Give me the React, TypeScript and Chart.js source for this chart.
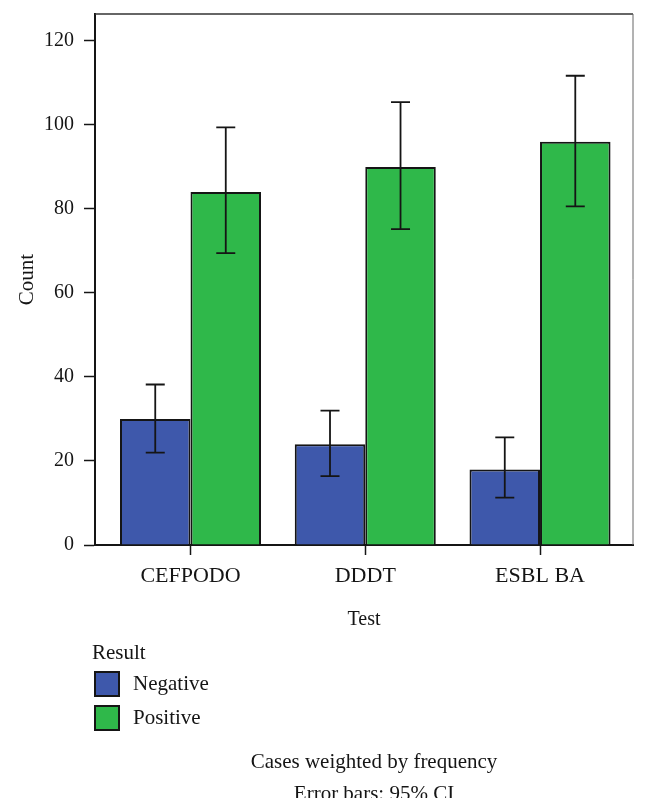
import React, { useEffect, useRef } from "react";
import { Chart, registerables } from "chart.js";

Chart.register(...registerables);

const CATEGORIES = ["CEFPODO", "DDDT", "ESBL BA"];
const SERIES_LABELS = ["Negative", "Positive"];
const NEGATIVE = [30, 24, 18];
const POSITIVE = [84, 90, 96];
const NEGATIVE_LOW = [22, 16.4, 11.3];
const NEGATIVE_HIGH = [38.2, 32, 25.6];
const POSITIVE_LOW = [69.5, 75.2, 80.6];
const POSITIVE_HIGH = [99.4, 105.4, 111.7];
const Y_TICK_STEP = 20;
const Y_MAX = 126.4;
const LEGEND_TITLE = "Result";
const X_TITLE = "Test";
const Y_TITLE = "Count";
const FOOTNOTES = ["Cases weighted by frequency", "Error bars: 95% CI"];

const COLORS = ["#3e58ab", "#2fb84a"];
const INK = "#151515";
const FONT = "'Liberation Serif', 'DejaVu Serif', serif";

const LOWS = [NEGATIVE_LOW, POSITIVE_LOW];
const HIGHS = [NEGATIVE_HIGH, POSITIVE_HIGH];

const errorBarPlugin = {
  id: "errorBars",
  afterDatasetsDraw(chart: any) {
    const { ctx } = chart;
    const yScale = chart.scales.y;
    ctx.save();
    ctx.strokeStyle = INK;
    ctx.lineWidth = 1.8;
    chart.data.datasets.forEach((_ds: any, di: number) => {
      const meta = chart.getDatasetMeta(di);
      meta.data.forEach((bar: any, i: number) => {
        const x = bar.x;
        const yl = yScale.getPixelForValue(LOWS[di][i]);
        const yh = yScale.getPixelForValue(HIGHS[di][i]);
        const cap = 9.5;
        ctx.beginPath();
        ctx.moveTo(x, yl);
        ctx.lineTo(x, yh);
        ctx.moveTo(x - cap, yl);
        ctx.lineTo(x + cap, yl);
        ctx.moveTo(x - cap, yh);
        ctx.lineTo(x + cap, yh);
        ctx.stroke();
      });
    });
    ctx.restore();
  },
};

const framePlugin = {
  id: "frame",
  afterDraw(chart: any) {
    const { ctx, chartArea } = chart;
    ctx.save();
    ctx.strokeStyle = "#333";
    ctx.lineWidth = 1.5;
    ctx.beginPath();
    ctx.moveTo(chartArea.left, chartArea.top);
    ctx.lineTo(chartArea.right, chartArea.top);
    ctx.stroke();
    ctx.strokeStyle = "#666";
    ctx.lineWidth = 1;
    ctx.beginPath();
    ctx.moveTo(chartArea.right, chartArea.top);
    ctx.lineTo(chartArea.right, chartArea.bottom);
    ctx.stroke();
    ctx.restore();
  },
};

const legendPlugin = {
  id: "customLegend",
  afterDraw(chart: any) {
    const { ctx } = chart;
    ctx.save();
    ctx.font = `21px ${FONT}`;
    ctx.fillStyle = INK;
    ctx.textBaseline = "middle";
    ctx.textAlign = "left";
    ctx.fillText(LEGEND_TITLE, 92, 653);
    chart.data.datasets.forEach((ds: any, i: number) => {
      const top = 672 + i * 34;
      ctx.fillStyle = ds.backgroundColor;
      ctx.fillRect(95, top, 24, 24);
      ctx.strokeStyle = INK;
      ctx.lineWidth = 2;
      ctx.strokeRect(95, top, 24, 24);
      ctx.fillStyle = INK;
      ctx.fillText(ds.label, 133, top + 12);
    });
    ctx.textAlign = "center";
    ctx.textBaseline = "alphabetic";
    ctx.fillText(FOOTNOTES[0], 374, 768);
    ctx.beginPath();
    ctx.rect(0, 0, 648, 798);
    ctx.clip();
    ctx.fillText(FOOTNOTES[1], 374, 800);
    ctx.restore();
  },
};

export default function App() {
  const canvasRef = useRef<HTMLCanvasElement | null>(null);

  useEffect(() => {
    if (!canvasRef.current) return;
    const chart = new Chart(canvasRef.current, {
      type: "bar",
      data: {
        datasets: [NEGATIVE, POSITIVE].map((vals, di) => ({
          label: SERIES_LABELS[di],
          data: vals.map((v, i) => ({ x: i, y: v })),
          backgroundColor: COLORS[di],
          borderColor: INK,
          borderWidth: 2,
          categoryPercentage: 0.807,
          barPercentage: 1,
        })),
      },
      options: {
        animation: false,
        responsive: false,
        devicePixelRatio: 1,
        layout: { padding: { top: 14, right: 15, left: 0, bottom: 177 } },
        plugins: {
          legend: { display: false },
          tooltip: { enabled: false },
        },
        scales: {
          x: {
            type: "linear",
            offset: false,
            min: -0.5465,
            max: 2.532,
            afterBuildTicks: (axis: any) => {
              axis.ticks = CATEGORIES.map((_c, i) => ({ value: i }));
            },
            afterFit: (axis: any) => {
              axis.height = 90;
              axis.paddingLeft = 0;
              axis.paddingRight = 0;
            },
            grid: {
              display: true,
              drawOnChartArea: false,
              drawTicks: true,
              tickLength: 10,
              tickColor: INK,
              tickWidth: 1.5,
              offset: false,
            },
            border: { display: true, color: INK, width: 2 },
            ticks: {
              autoSkip: false,
              maxRotation: 0,
              padding: 8,
              color: INK,
              font: { family: FONT, size: 22 },
              callback: (value: any) => CATEGORIES[value] ?? "",
            },
            title: {
              display: true,
              text: X_TITLE,
              color: INK,
              font: { family: FONT, size: 20 },
              padding: { top: 0, bottom: 3 },
            },
          },
          y: {
            min: 0,
            max: Y_MAX,
            afterFit: (axis: any) => {
              axis.width = 95;
              axis.paddingTop = 0;
              axis.paddingBottom = 0;
            },
            grid: {
              display: true,
              drawOnChartArea: false,
              drawTicks: true,
              tickLength: 11,
              tickColor: INK,
              tickWidth: 1.5,
            },
            border: { display: true, color: INK, width: 2 },
            ticks: {
              stepSize: Y_TICK_STEP,
              includeBounds: false,
              padding: 10,
              color: INK,
              font: { family: FONT, size: 20 },
            },
            title: {
              display: true,
              text: Y_TITLE,
              color: INK,
              font: { family: FONT, size: 21 },
              padding: { top: 15, bottom: 0 },
            },
          },
        },
      },
      plugins: [errorBarPlugin, framePlugin, legendPlugin],
    } as any);
    return () => chart.destroy();
  }, []);

  return (
    <div style={{ position: "absolute", left: 0, top: 0, width: 648, height: 812, background: "#fff" }}>
      <canvas ref={canvasRef} width={648} height={812} style={{ display: "block" }} />
    </div>
  );
}
